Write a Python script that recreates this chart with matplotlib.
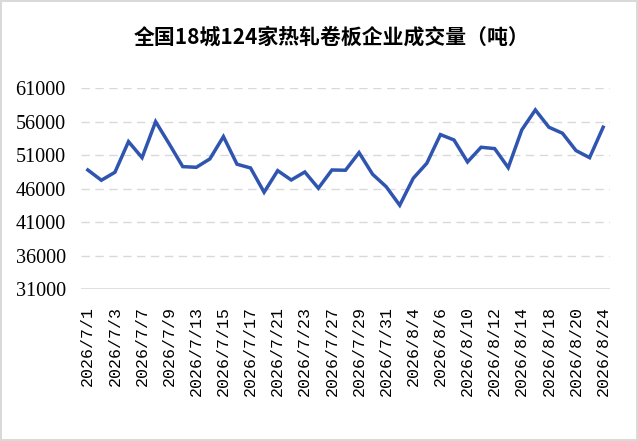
import matplotlib
matplotlib.use("Agg")
import matplotlib.pyplot as plt
import numpy as np

dates = ["7/1", "7/2", "7/3", "7/6", "7/7", "7/8", "7/9", "7/10", "7/13", "7/14",
         "7/15", "7/16", "7/17", "7/20", "7/21", "7/22", "7/23", "7/24", "7/27", "7/28",
         "7/29", "7/30", "7/31", "8/3", "8/4", "8/5", "8/6", "8/7", "8/10", "8/11",
         "8/12", "8/13", "8/14", "8/17", "8/18", "8/19", "8/20", "8/21", "8/24"]
dates = ["2026/" + d for d in dates]
volume = [48800, 47270, 48460, 53030, 50640, 56010, 52700, 49300, 49200, 50450,
          53780, 49660, 49100, 45480, 48700, 47310, 48500, 46080, 48800, 48760,
          51390, 48160, 46310, 43540, 47570, 49810, 54080, 53280, 50000, 52190,
          51990, 49150, 54780, 57760, 55180, 54280, 51690, 50640, 55180]
yticks = [31000, 36000, 41000, 46000, 51000, 56000, 61000]

fig = plt.figure(figsize=(6.38, 4.41), dpi=100)
fig.patch.set_edgecolor("#d9d9d9")
fig.patch.set_linewidth(1.5)
ax = fig.add_axes([0.127, 0.344, 0.829, 0.456])

x = np.arange(len(volume))
ax.plot(x, volume, color="#2f55b0", lw=2.5, solid_joinstyle="miter")

ax.set_xlim(-0.5, len(volume) - 0.5)
ax.set_ylim(31000, 61000)
ax.set_yticks(yticks)
ax.set_yticklabels([str(v) for v in yticks], fontfamily="Liberation Serif", fontsize=14.5)
for v in yticks[1:]:
    ax.axhline(v, color="#d9d9d9", lw=1, ls=(0, (6, 4)), zorder=0)
ax.axhline(31000, color="#d9d9d9", lw=1.2, zorder=0)

ax.set_xticks(x[::2])
ax.set_xticklabels(dates[::2], rotation=90, fontfamily="Liberation Mono", fontsize=12)
ax.tick_params(axis="y", length=0, pad=11)
ax.tick_params(axis="x", length=0, pad=12)
for s in ax.spines.values():
    s.set_visible(False)

fig.text(0.52, 0.917, "全国18城124家热轧卷板企业成交量（吨）", ha="center", va="center",
         fontfamily=["Noto Sans CJK SC", "DejaVu Sans"], fontsize=15, fontweight="bold")

fig.savefig("out.png", dpi=100, edgecolor=fig.get_edgecolor())
